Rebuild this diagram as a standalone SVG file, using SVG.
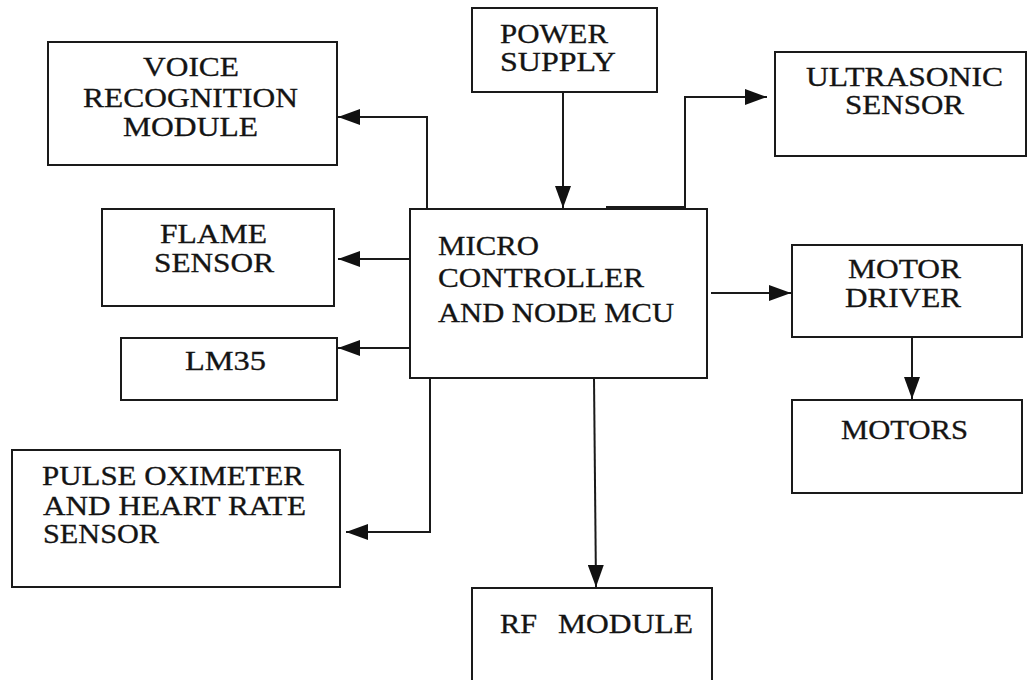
<svg xmlns="http://www.w3.org/2000/svg" width="1027" height="680" viewBox="0 0 1027 680">
<defs>
<style>
.box{fill:#fff;stroke:#1a1a1a;stroke-width:2}
.lbl{font-family:"Liberation Serif","Times New Roman",serif;font-size:27px;fill:#141414;stroke:#141414;stroke-width:0.3}
.wire{fill:none;stroke:#1a1a1a;stroke-width:2}
</style>
<marker id="ah" viewBox="0 0 22 16" refX="22" refY="8" markerWidth="22" markerHeight="16" markerUnits="userSpaceOnUse" orient="auto">
<path d="M0,0 L22,8 L0,16 Z" fill="#111"/>
</marker>
</defs>
<rect width="1027" height="680" fill="#fff"/>
<g id="connectors">
<path class="wire" d="M427,209 V117 H338" marker-end="url(#ah)"/>
<path class="wire" d="M414,259 H338" marker-end="url(#ah)"/>
<path class="wire" d="M414,348 H338" marker-end="url(#ah)"/>
<path class="wire" d="M430,378 V532 H346" marker-end="url(#ah)"/>
<path class="wire" d="M563,92 V208" marker-end="url(#ah)"/>
<path class="wire" d="M606,207 H685 V97 H767" marker-end="url(#ah)"/>
<path class="wire" d="M711,293 H791" marker-end="url(#ah)"/>
<path class="wire" d="M912,337 V399" marker-end="url(#ah)"/>
<path class="wire" d="M594,378 L596,587" marker-end="url(#ah)"/>
</g>
<g id="voice">
<rect class="box" x="48" y="42" width="289" height="123"/>
<text class="lbl" x="143" y="76" textLength="96" lengthAdjust="spacingAndGlyphs">VOICE</text>
<text class="lbl" x="83" y="107" textLength="215" lengthAdjust="spacingAndGlyphs">RECOGNITION</text>
<text class="lbl" x="123" y="136" textLength="135" lengthAdjust="spacingAndGlyphs">MODULE</text>
</g>
<g id="flame">
<rect class="box" x="102" y="209" width="232" height="97"/>
<text class="lbl" x="160" y="243" textLength="107" lengthAdjust="spacingAndGlyphs">FLAME</text>
<text class="lbl" x="154" y="272" textLength="120" lengthAdjust="spacingAndGlyphs">SENSOR</text>
</g>
<g id="lm35">
<rect class="box" x="121" y="338" width="216" height="62"/>
<text class="lbl" x="185" y="370" textLength="81" lengthAdjust="spacingAndGlyphs">LM35</text>
</g>
<g id="pulse">
<rect class="box" x="12" y="450" width="328" height="137"/>
<text class="lbl" x="42" y="485" textLength="262" lengthAdjust="spacingAndGlyphs">PULSE OXIMETER</text>
<text class="lbl" x="43" y="515" textLength="263" lengthAdjust="spacingAndGlyphs">AND HEART RATE</text>
<text class="lbl" x="43" y="543" textLength="116" lengthAdjust="spacingAndGlyphs">SENSOR</text>
</g>
<g id="power">
<rect class="box" x="472" y="8" width="185" height="84"/>
<text class="lbl" x="500" y="43" textLength="108" lengthAdjust="spacingAndGlyphs">POWER</text>
<text class="lbl" x="500" y="71" textLength="116" lengthAdjust="spacingAndGlyphs">SUPPLY</text>
</g>
<g id="mcu">
<rect class="box" x="410" y="209" width="297" height="169"/>
<text class="lbl" x="438" y="255" textLength="101" lengthAdjust="spacingAndGlyphs">MICRO</text>
<text class="lbl" x="438" y="287" textLength="206" lengthAdjust="spacingAndGlyphs">CONTROLLER</text>
<text class="lbl" x="438" y="322" textLength="236" lengthAdjust="spacingAndGlyphs">AND NODE MCU</text>
</g>
<g id="ultrasonic">
<rect class="box" x="775" y="52" width="251" height="104"/>
<text class="lbl" x="806" y="86" textLength="197" lengthAdjust="spacingAndGlyphs">ULTRASONIC</text>
<text class="lbl" x="845" y="114" textLength="119" lengthAdjust="spacingAndGlyphs">SENSOR</text>
</g>
<g id="motordriver">
<rect class="box" x="792" y="245" width="230" height="92"/>
<text class="lbl" x="848" y="278" textLength="113" lengthAdjust="spacingAndGlyphs">MOTOR</text>
<text class="lbl" x="845" y="307" textLength="116" lengthAdjust="spacingAndGlyphs">DRIVER</text>
</g>
<g id="motors">
<rect class="box" x="792" y="400" width="230" height="93"/>
<text class="lbl" x="841" y="439" textLength="127" lengthAdjust="spacingAndGlyphs">MOTORS</text>
</g>
<g id="rf">
<rect class="box" x="472" y="588" width="240" height="100"/>
<text class="lbl"><tspan x="500" y="633" textLength="37" lengthAdjust="spacingAndGlyphs">RF</tspan><tspan x="558" y="633" textLength="135" lengthAdjust="spacingAndGlyphs">MODULE</tspan></text>
</g>
</svg>
